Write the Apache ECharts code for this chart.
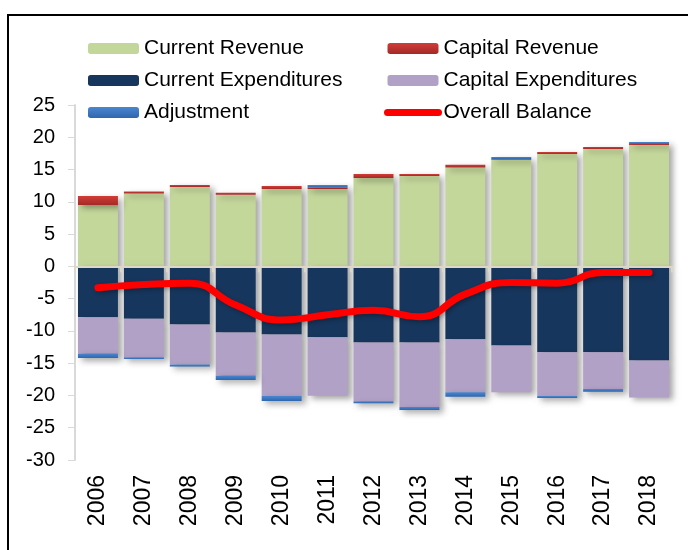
<!DOCTYPE html>
<html>
<head>
<meta charset="utf-8">
<script src="https://cdn.jsdelivr.net/npm/echarts@6/dist/echarts.min.js"></script>
<style>
html,body{margin:0;padding:0;background:#fff;}
#chart{width:688px;height:550px;}
</style>
</head>
<body>
<div id="chart"></div>
<script>
var years = ['2006','2007','2008','2009','2010','2011','2012','2013','2014','2015','2016','2017','2018'];
var currentRevenue = [9.5, 11.3, 12.3, 11.1, 12.0, 12.0, 13.7, 14.0, 15.3, 16.5, 17.4, 18.2, 18.8];
var capitalRevenue = [1.4, 0.3, 0.3, 0.3, 0.45, 0.25, 0.6, 0.3, 0.45, 0.15, 0.3, 0.3, 0.15];
var currentExpenditures = [-7.9, -8.1, -9.0, -10.25, -10.55, -11.0, -11.8, -11.8, -11.3, -12.25, -13.3, -13.3, -14.6];
var capitalExpenditures = [-5.6, -6.0, -6.2, -6.65, -9.55, -9.05, -9.1, -10.0, -8.2, -7.25, -6.8, -5.7, -5.7];
var adjustment = [-0.7, -0.27, -0.3, -0.7, -0.75, 0.36, -0.3, -0.45, -0.7, 0.3, -0.3, -0.42, 0.3];
var overallBalance = [-3.3, -2.8, -2.6, -6.0, -8.3, -7.5, -6.8, -7.8, -4.3, -2.5, -2.6, -0.95, -0.95];
var yTicks = [-30, 25, 5];

var FONT = 'Liberation Sans, Arial, sans-serif';
var chart = echarts.init(document.getElementById('chart'));
var shadow = {shadowColor:'rgba(0,0,0,0.35)', shadowBlur:6, shadowOffsetX:4, shadowOffsetY:3};
function barStyle(color){ return Object.assign({color: color}, shadow); }
function grad(top, bottom){ return {type:'linear', x:0, y:0, x2:0, y2:1, colorStops:[{offset:0,color:top},{offset:1,color:bottom}]}; }

function legendOpt(left, data){
  return {
    orient: 'vertical', left: left, top: 33, itemWidth: 51, itemHeight: 11, itemGap: 11,
    textStyle: {fontSize: 21, fontFamily: FONT, color: '#000', lineHeight: 20},
    selectedMode: false, data: data
  };
}

chart.setOption({
  backgroundColor: '#fff',
  animation: false,
  graphic: [{
    type: 'polyline', shape: {points: [[8, 560], [8, 15], [700, 15]]},
    style: {stroke: '#000', lineWidth: 2, fill: null}, z: 100
  }],
  legend: [
    legendOpt(83, ['Current Revenue', 'Current Expenditures', 'Adjustment']),
    legendOpt(379, ['Capital Revenue', 'Capital Expenditures',
      {name: 'Overall Balance', itemStyle: {opacity: 0}, lineStyle: {width: 7, cap: 'round', color: '#ff0000'}}])
  ],
  grid: {left: 75, right: 16, top: 105, bottom: 90, containLabel: false},
  xAxis: [{
    type: 'category', data: years, position: 'bottom',
    axisLine: {show: false, onZero: false}, axisTick: {show: false},
    axisLabel: {rotate: 90, fontSize: 23, fontFamily: FONT, color: '#000', margin: 15}
  }, {
    type: 'category', data: years, position: 'top', z: 10,
    axisLine: {show: true, onZero: true, lineStyle: {color: '#dcd7c6', width: 2}},
    axisTick: {show: true, inside: true, length: 6, lineStyle: {color: '#dcd7c6', width: 2}},
    axisLabel: {show: false}
  }],
  yAxis: {
    type: 'value', min: yTicks[0], max: yTicks[1], interval: yTicks[2],
    splitLine: {show: false},
    axisLine: {show: true, lineStyle: {color: '#d9d9d9', width: 2}},
    axisTick: {show: true, length: 7, lineStyle: {color: '#d9d9d9'}},
    axisLabel: {fontSize: 20, fontFamily: FONT, color: '#000', margin: 20}
  },
  series: [
    {name: 'Current Revenue', type: 'bar', stack: 'a', barCategoryGap: '13%', data: currentRevenue, itemStyle: barStyle('#c4d79b')},
    {name: 'Capital Revenue', type: 'bar', stack: 'a', data: capitalRevenue, itemStyle: barStyle(grad('#d23c37', '#a32a28'))},
    {name: 'Current Expenditures', type: 'bar', stack: 'a', data: currentExpenditures, itemStyle: barStyle('#17365d')},
    {name: 'Capital Expenditures', type: 'bar', stack: 'a', data: capitalExpenditures, itemStyle: barStyle('#b2a1c7')},
    {name: 'Adjustment', type: 'bar', stack: 'a', data: adjustment, itemStyle: barStyle(grad('#4a86d0', '#2f67ae'))},
    {name: 'Overall Balance', type: 'line', data: overallBalance, smooth: 0.5, symbol: 'none', z: 20,
      lineStyle: {color: '#ff0000', width: 7, cap: 'round', shadowColor: 'rgba(0,0,0,0.3)', shadowBlur: 4, shadowOffsetX: 2, shadowOffsetY: 2},
      itemStyle: {color: '#ff0000'}}
  ]
});
</script>
</body>
</html>
